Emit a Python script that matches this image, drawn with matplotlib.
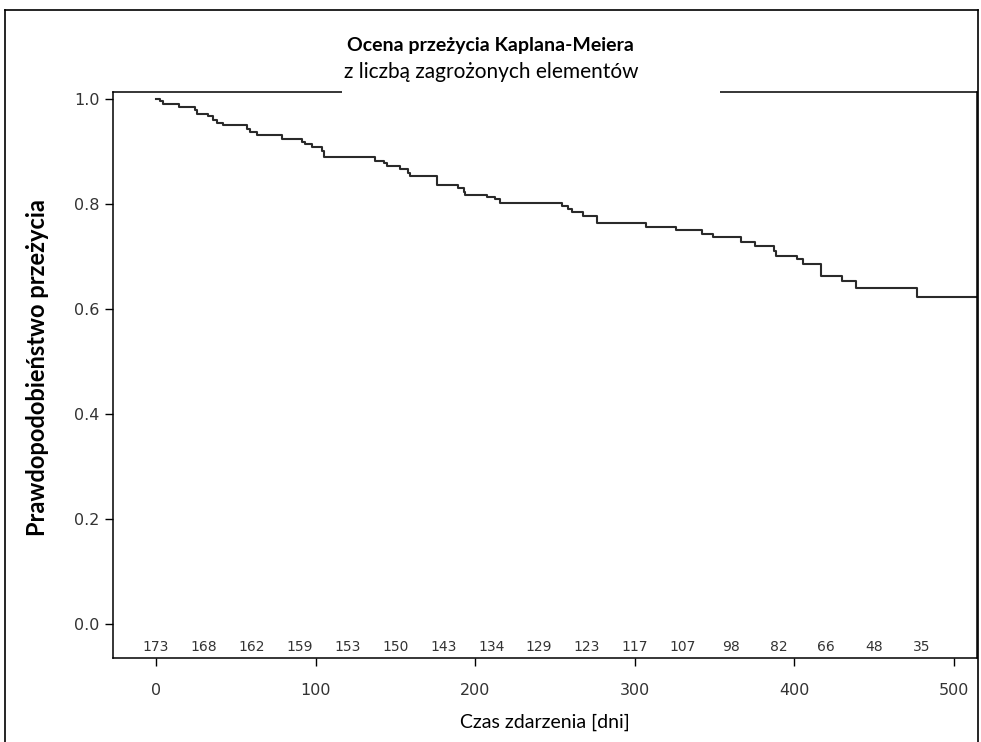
import matplotlib
matplotlib.use("Agg")
import matplotlib.pyplot as plt
from matplotlib.patches import Rectangle
from matplotlib.lines import Line2D

# Kaplan-Meier step curve (time of event, survival after the event)
event_times = [0, 2.5, 4.6, 14.6, 24.4, 25.5, 32.8, 35.9, 38.0, 41.8, 57.2, 58.9,
               63.1, 78.8, 91.3, 93.4, 97.6, 103.8, 105.3, 137.2, 142.9, 144.9,
               152.9, 158.1, 159.1, 175.9, 189.4, 193.0, 193.6, 207.6, 212.4,
               215.5, 254.2, 258.3, 260.4, 267.7, 276.1, 307.0, 325.6, 341.9,
               348.8, 366.3, 375.3, 387.5, 388.5, 401.9, 405.6, 416.5, 430.0,
               438.6, 476.5, 520]
survival = [1.0, 0.995, 0.989, 0.984, 0.978, 0.971, 0.966, 0.960, 0.954, 0.949,
            0.942, 0.936, 0.930, 0.923, 0.918, 0.913, 0.907, 0.900, 0.889, 0.882,
            0.877, 0.871, 0.865, 0.858, 0.852, 0.835, 0.830, 0.823, 0.817, 0.813,
            0.808, 0.801, 0.795, 0.789, 0.784, 0.776, 0.763, 0.756, 0.750, 0.742,
            0.736, 0.727, 0.719, 0.710, 0.701, 0.694, 0.685, 0.663, 0.652, 0.639,
            0.622, 0.622]

# number at risk every 30 days
risk_times = [0, 30, 60, 90, 120, 150, 180, 210, 240, 270, 300, 330, 360, 390, 420, 450, 480]
at_risk = [173, 168, 162, 159, 153, 150, 143, 134, 129, 123, 117, 107, 98, 82, 66, 48, 35]

x_ticks = [0, 100, 200, 300, 400, 500]
y_ticks = [0.0, 0.2, 0.4, 0.6, 0.8, 1.0]

W, H = 981, 742
fig = plt.figure(figsize=(W / 100, H / 100), dpi=100)
ax = fig.add_axes([113.3 / W, 1 - 658 / H, (976.7 - 113.3) / W, (658 - 91.7) / H])

ax.step(event_times, survival, where="post", color="#2a2a2a", lw=1.5)

ax.set_xlim(-26.8, 514.2)
ax.set_ylim(-0.065, 1.013)
ax.set_xticks(x_ticks)
ax.set_yticks(y_ticks)
ax.set_yticklabels(["%.1f" % v for v in y_ticks])
ax.tick_params(direction="out", length=6, width=1, labelsize=11.5, color="black",
               labelcolor="#333333")
ax.tick_params(axis="x", pad=12)
ax.tick_params(axis="y", pad=4)
for s in ax.spines.values():
    s.set_linewidth(1.1)
    s.set_color("black")

for t, n in zip(risk_times, at_risk):
    ax.text(t, -0.045, str(n), ha="center", va="center", fontsize=10, color="#333333")

# labels
ax.set_xlabel("Czas zdarzenia [dni]", fontsize=14, family="Lato", labelpad=11)
fig.text(38 / W, 1 - 368 / H, "Prawdopodobieństwo przeżycia", rotation=90,
         ha="center", va="center", fontsize=17, family="Lato", fontweight="bold")

# title block, white box hides the top spine behind it
fig.add_artist(Rectangle((342 / W, 1 - 93 / H), (720 - 342) / W, 70 / H,
                         transform=fig.transFigure, facecolor="white",
                         edgecolor="none", zorder=3))
fig.text(490 / W, 1 - 45 / H, "Ocena przeżycia Kaplana-Meiera", ha="center",
         va="center", fontsize=14, family="Lato", fontweight="bold", zorder=4)
fig.text(491 / W, 1 - 72 / H, "z liczbą zagrożonych elementów", ha="center",
         va="center", fontsize=15, family="Lato", zorder=4)

# outer frame
for xs, ys in [([5, 5], [10, H + 5]), ([5, 978], [10, 10]), ([978, 978], [10, H + 5])]:
    fig.add_artist(Line2D([x / W for x in xs], [1 - y / H for y in ys],
                          transform=fig.transFigure, color="black", lw=1.2, zorder=5))

fig.savefig("out.png", dpi=100)
